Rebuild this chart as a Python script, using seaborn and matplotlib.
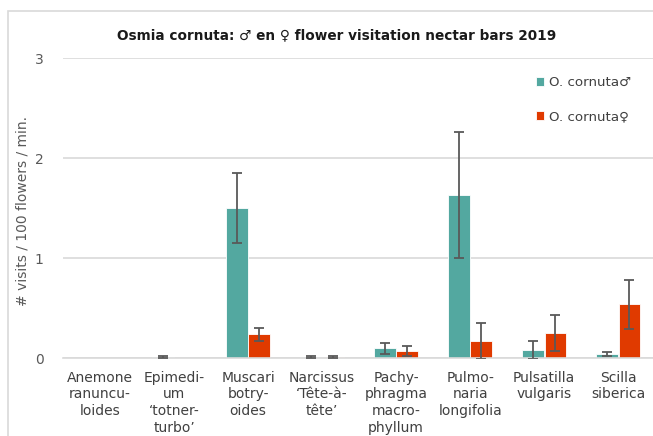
import numpy as np
import pandas as pd
import matplotlib
matplotlib.use("Agg")
import matplotlib.pyplot as plt
import matplotlib.patches as mpatches
import seaborn as sns

plants = ["Anemone\nranuncu-\nloides", "Epimedi-\num\n\u2018totner-\nturbo\u2019", "Muscari\nbotry-\noides",
          "Narcissus\n\u2018T\u00eate-\u00e0-\nt\u00eate\u2019", "Pachy-\nphragma\nmacro-\nphyllum",
          "Pulmo-\nnaria\nlongifolia", "Pulsatilla\nvulgaris", "Scilla\nsiberica"]
male_vals = [0.0, 0.01, 1.50, 0.01, 0.10, 1.63, 0.08, 0.037]
male_err = [np.nan, 0.01, 0.35, 0.01, 0.055, 0.63, 0.09, 0.02]
female_vals = [0.0, 0.0, 0.24, 0.01, 0.07, 0.17, 0.25, 0.54]
female_err = [np.nan, np.nan, 0.065, 0.01, 0.048, 0.18, 0.18, 0.245]
series = ["O. cornuta\u2642", "O. cornuta\u2640"]
colors = ["#53A8A0", "#E03A00"]

sns.set_theme(style="white")
plt.rcParams["font.family"] = ["DejaVu Sans"]

df = pd.DataFrame({
    "plant": plants * 2,
    "val": male_vals + female_vals,
    "sex": [series[0]] * len(plants) + [series[1]] * len(plants),
})

fig = plt.figure(figsize=(6.53, 4.36), dpi=100)
ax = fig.add_axes([63 / 653, 78 / 436, 590 / 653, 300 / 436])

sns.barplot(data=df, x="plant", y="val", hue="sex", palette=colors, errorbar=None,
            width=0.6, gap=0.03, edgecolor="white", linewidth=0.6, ax=ax, saturation=1)

errs = [male_err, female_err]
for cont, err in zip(ax.containers, errs):
    for bar, e in zip(cont, err):
        if np.isnan(e):
            continue
        x = bar.get_x() + bar.get_width() / 2
        y = bar.get_height()
        ax.errorbar(x, y, yerr=e, color="#595959", lw=1.3, capsize=3.6, capthick=1.3, zorder=5)

ax.set_ylim(0, 3)
ax.set_xlim(-0.5, 7.47)
ax.set_yticks([0, 1, 2, 3])
ax.yaxis.grid(True, color="#D9D9D9", lw=1.2)
ax.set_axisbelow(True)
for s in ["top", "right", "left"]:
    ax.spines[s].set_visible(False)
ax.spines["bottom"].set_color("#D9D9D9")
ax.spines["bottom"].set_linewidth(1.2)
ax.tick_params(axis="y", length=0, pad=14, labelsize=10, labelcolor="#595959")
ax.tick_params(axis="x", length=0, pad=9, labelsize=10, labelcolor="#404040")
for t in ax.get_xticklabels():
    t.set_linespacing(1.25)
    t.set_verticalalignment("top")
ax.set_xlabel("")
ax.set_ylabel("# visits / 100 flowers / min.", fontsize=10, color="#595959")
ax.yaxis.set_label_coords(-0.057, 0.49)

fig.text(0.515, 1 - 35 / 436, "Osmia cornuta: \u2642 en \u2640 flower visitation nectar bars 2019",
         ha="center", va="center", fontsize=9.8, fontweight="bold", color="#1a1a1a")

leg = ax.legend(loc="upper left", bbox_to_anchor=(524 / 653, 1 - 64 / 436), bbox_transform=fig.transFigure,
                frameon=False, fontsize=9.6, handlelength=0.6, handleheight=0.6, handletextpad=0.4,
                labelspacing=1.6)
for t in leg.get_texts():
    t.set_color("#404040")

fig.patches.append(mpatches.Rectangle((8 / 653, -0.05), 1.2, 1 - 11 / 436 + 0.05, transform=fig.transFigure,
                                      fill=False, edgecolor="#D9D9D9", lw=1.2, zorder=0))

fig.savefig("out.png", dpi=100)
